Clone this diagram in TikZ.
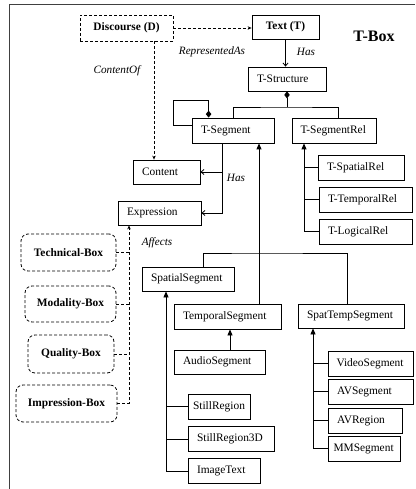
\documentclass[tikz,border=0pt]{standalone}
\usepackage{fontspec}
\setmainfont{Liberation Serif}
\usetikzlibrary{arrows.meta}
\begin{document}
\begin{tikzpicture}[x=1pt,y=-1pt,line width=0.8pt,
  bx/.style={draw, inner xsep=9pt, inner ysep=0pt, minimum height=25pt,
    text width=#1, align=left, font=\fontsize{11.4}{13}\selectfont},
  cbx/.style={draw, inner sep=0pt, minimum height=25pt, minimum width=#1,
    font=\bfseries\fontsize{11.4}{13}\selectfont},
  rbx/.style={draw, dash pattern=on 3pt off 2pt, rounded corners=7pt, inner sep=0pt,
    minimum width=#1, minimum height=37pt, font=\bfseries\fontsize{11.4}{13}\selectfont},
  lbl/.style={font=\itshape\fontsize{11.2}{13}\selectfont, inner sep=0pt},
  dsh/.style={dash pattern=on 3pt off 2pt},
  dasharr/.style={dsh, -{Stealth[length=4pt,width=3.5pt]}},
  hasarr/.style={-{Straight Barb[length=3pt,width=5pt]}},
  inh/.style={-{Triangle[length=6pt,width=5pt]}},
  diam/.style={{Diamond[length=7pt,width=5.5pt]}-}
]
\useasboundingbox (0,0) rectangle (415,489);
% frame
\draw[black!75, line width=1pt] (9,489) -- (9,5) -- (415,5);

% top nodes
\node[cbx=93pt, minimum height=26pt, dsh] (disc) at (126.5,28) {Discourse (D)};
\node[cbx=67pt, minimum height=24pt] (text) at (285.5,27) {Text (T)};
\node[font=\bfseries\fontsize{16}{18}\selectfont, inner sep=0pt] (tbox) at (374,36) {T-Box};
\node[bx=60pt, minimum height=24pt] (ts) at (287,79) {T-Structure};
\node[bx=64pt] (tseg) at (233,130.5) {T-Segment};
\node[bx=67pt, inner xsep=8.5pt] (tsegrel) at (334,130.5) {T-SegmentRel};
\node[bx=49pt, minimum height=24pt] (content) at (166.5,172) {Content};
\node[bx=65pt, minimum height=24pt] (expr) at (159.5,213) {Expression};
\node[bx=68pt] (tspat) at (361,167.5) {T-SpatialRel};
\node[bx=75pt] (ttemp) at (365.5,199.5) {T-TemporalRel};
\node[bx=75pt] (tlog) at (365.5,231.5) {T-LogicalRel};
\node[bx=74pt, minimum height=24pt] (spatseg) at (188,279) {SpatialSegment};
\node[bx=89pt] (tempseg) at (227.5,316.5) {TemporalSegment};
\node[bx=88pt, minimum height=24pt] (stseg) at (351,316) {SpatTempSegment};
\node[bx=73pt, minimum height=24pt] (audio) at (219.5,362) {AudioSegment};
\node[bx=52pt, inner xsep=5pt] (stillr) at (219,406.5) {StillRegion};
\node[bx=68pt] (still3d) at (231,439) {StillRegion3D};
\node[bx=54pt] (imgt) at (224,471) {ImageText};
\node[bx=68pt, inner xsep=8.5pt] (video) at (370.5,363.5) {VideoSegment};
\node[bx=67pt] (avseg) at (370.5,391.5) {AVSegment};
\node[bx=56pt] (avreg) at (365,420.5) {AVRegion};
\node[bx=61pt, inner xsep=5.5pt] (mm) at (364,448.5) {MMSegment};

% left boxes
\node[rbx=95pt] (tech) at (68.5,252.5) {Technical-Box};
\node[rbx=91pt, minimum height=36pt] (moda) at (70.5,304) {Modality-Box};
\node[rbx=86pt, minimum height=38pt] (qual) at (71,354) {Quality-Box};
\node[rbx=101pt] (impr) at (66.5,403.5) {Impression-Box};

% labels
\node[lbl] (lrep) at (212,52) {RepresentedAs};
\node[lbl] (lhas1) at (306,52) {Has};
\node[lbl] (lcont) at (117,71) {ContentOf};
\node[lbl] (lhas2) at (236,178) {Has};
\node[lbl] (laff) at (157,243) {Affects};

% top connectors
\draw[dasharr] (disc.east) -- (disc.east -| text.west);
\draw[hasarr] (text.south) -- (text.south |- ts.north);
\draw[dasharr] ([xshift=27.5pt]disc.south) -- ([xshift=27.5pt]disc.south |- content.north);

% T-Structure aggregation
\coordinate (jt) at (287,107);
\draw[diam] (ts.south) -- (jt);
\draw (tseg.north) |- (jt) -| ([xshift=4pt]tsegrel.north);

% self loop
\draw[diam] ([xshift=17pt]tseg.north west) |- (173,100) |- ([yshift=5.5pt]tseg.west);

% Has from T-Segment
\coordinate (hs) at ([xshift=-11pt]tseg.south);
\draw[hasarr] (hs) |- (expr.east);
\draw[hasarr] (hs |- content.east) -- (content.east);

% T-SegmentRel subtree
\coordinate (rv) at ([xshift=-30pt]tsegrel.south);
\draw[inh] (tlog.west) -| (rv);
\draw (tspat.west) -- (tspat.west -| rv);
\draw (ttemp.west) -- (ttemp.west -| rv);

% segment subtypes to T-Segment
\coordinate (sv0) at ([xshift=26pt]tseg.south);
\coordinate (j2) at (259,253);
\draw[inh] (sv0 |- tempseg.north) -- (sv0);
\draw ([xshift=15pt]spatseg.north) |- (j2) -| ([xshift=-4pt]stseg.north);

% AudioSegment
\draw[inh] ([xshift=10.5pt]audio.north) -- ([xshift=10.5pt]audio.north |- tempseg.south);

% SpatialSegment subtree
\coordinate (sv) at ([xshift=-22pt]spatseg.south);
\draw[inh] (imgt.west) -| (sv);
\draw (stillr.west) -- (stillr.west -| sv);
\draw (still3d.west) -- (still3d.west -| sv);

% SpatTempSegment subtree
\coordinate (tv) at ([xshift=-38pt]stseg.south);
\draw[inh] (mm.west) -| (tv);
\draw (video.west) -- (video.west -| tv);
\draw (avseg.west) -- (avseg.west -| tv);
\draw (avreg.west) -- (avreg.west -| tv);

% Affects
\coordinate (av) at ([xshift=-30.5pt]expr.south);
\draw[dasharr] (impr.east) -| (av);
\draw[dsh] (tech.east) -- (tech.east -| av);
\draw[dsh] (moda.east) -- (moda.east -| av);
\draw[dsh] (qual.east) -- (qual.east -| av);
\end{tikzpicture}
\end{document}
